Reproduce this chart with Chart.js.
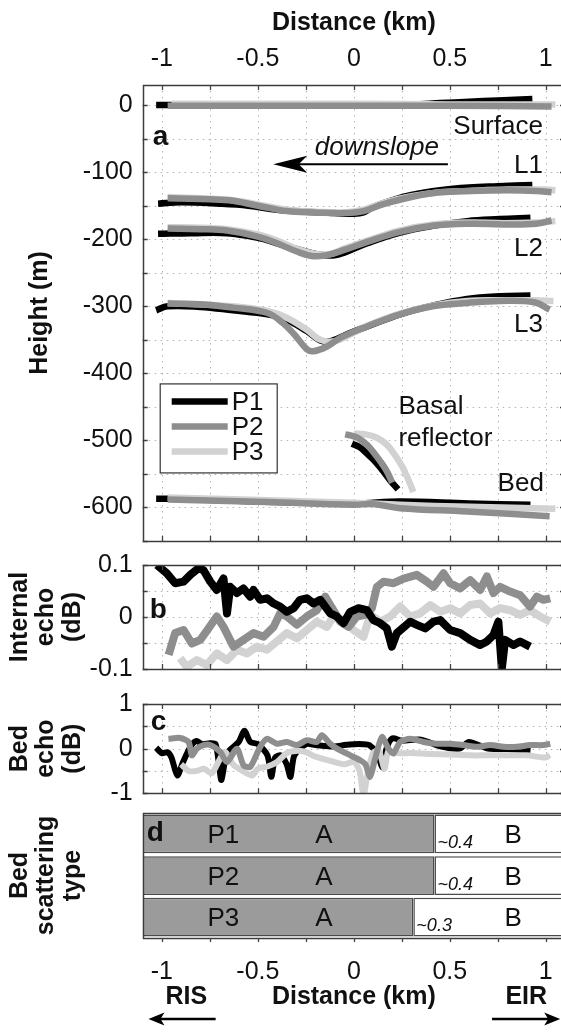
<!DOCTYPE html>
<html><head><meta charset="utf-8">
<script src="https://cdn.jsdelivr.net/npm/chart.js@4.4.1/dist/chart.umd.min.js"></script>
<style>
html,body{margin:0;padding:0;background:#fff;overflow:hidden}
body{width:561px;height:1033px;position:relative}
canvas{position:absolute;left:0}
</style></head>
<body>
<canvas id="cA" width="575" height="560" style="top:0px"></canvas>
<canvas id="cB" width="575" height="140" style="top:545px"></canvas>
<canvas id="cC" width="575" height="125" style="top:685px"></canvas>
<canvas id="cD" width="575" height="233" style="top:800px"></canvas>
<script>
// ---------------- DATA ----------------
const profiles = ['P1', 'P2', 'P3'];
const distanceTickLabels = [-1, -0.5, 0, 0.5, 1];
const heightTickLabels = [0, -100, -200, -300, -400, -500, -600];
const internalTickLabels = [-0.1, 0, 0.1];
const bedEchoTickLabels = [-1, 0, 1];

// panel a : layer heights (distance km, height m)
const surfaceP1 = [[-1.03,0],[-0.96,0],[-0.5,0],[0,0],[0.3,1],[0.45,3],[0.6,5],[0.75,7],[0.93,9]];
const surfaceP2 = [[-0.97,-1],[-0.5,-1],[0,-1],[0.5,-1],[1.03,-2]];
const surfaceP3 = [[-0.95,2],[-0.5,2],[0,2],[0.5,1],[1.05,1]];

const l1P1 = [[-1.02,-147],[-0.9,-145],[-0.7,-147],[-0.55,-150],[-0.4,-156],[-0.25,-159],[-0.1,-161],[0,-162],[0.05,-160],[0.1,-152],[0.2,-142],[0.3,-134],[0.45,-127],[0.6,-123],[0.75,-121],[0.93,-119]];
const l1P2 = [[-0.97,-139],[-0.8,-140],[-0.65,-142],[-0.5,-150],[-0.35,-158],[-0.2,-160],[-0.05,-161],[0.05,-158],[0.15,-148],[0.3,-137],[0.45,-130],[0.6,-128],[0.8,-127],[0.95,-128],[1.03,-130]];
const l1P3 = [[-0.97,-137],[-0.8,-139],[-0.65,-141],[-0.5,-148],[-0.35,-156],[-0.2,-159],[-0.05,-160],[0.05,-156],[0.15,-146],[0.3,-136],[0.45,-130],[0.6,-128],[0.8,-126],[1.0,-126],[1.05,-127]];

const l2P1 = [[-1.02,-192],[-0.85,-191],[-0.66,-191],[-0.5,-198],[-0.4,-206],[-0.28,-216],[-0.18,-223],[-0.1,-224],[-0.05,-220],[0.07,-206],[0.24,-190],[0.41,-180],[0.59,-173],[0.76,-170],[0.92,-168]];
const l2P2 = [[-0.97,-184],[-0.8,-185],[-0.66,-187],[-0.5,-196],[-0.4,-206],[-0.3,-218],[-0.22,-225],[-0.15,-224],[-0.05,-216],[0.07,-204],[0.24,-189],[0.41,-180],[0.6,-177],[0.78,-178],[0.95,-177],[1.03,-172]];
const l2P3 = [[-0.97,-182],[-0.8,-183],[-0.66,-185],[-0.5,-193],[-0.4,-202],[-0.3,-214],[-0.2,-222],[-0.12,-222],[-0.05,-214],[0.07,-202],[0.24,-187],[0.41,-178],[0.6,-175],[0.78,-176],[0.95,-175],[1.05,-173]];

const l3P1 = [[-1.03,-306],[-0.97,-300],[-0.8,-301],[-0.63,-306],[-0.45,-312],[-0.35,-320],[-0.245,-337],[-0.175,-351],[-0.12,-352],[-0.02,-340],[0.07,-330],[0.24,-312],[0.41,-299],[0.59,-289],[0.76,-285],[0.92,-284]];
const l3P2 = [[-0.97,-296],[-0.8,-297],[-0.63,-302],[-0.45,-310],[-0.37,-325],[-0.31,-342],[-0.245,-364],[-0.21,-367],[-0.14,-360],[-0.07,-347],[0.07,-330],[0.24,-312],[0.41,-300],[0.59,-295],[0.76,-292],[0.94,-294],[1.02,-305]];
const l3P3 = [[-0.97,-295],[-0.63,-300],[-0.45,-307],[-0.35,-317],[-0.245,-335],[-0.175,-350],[-0.1,-352],[-0.02,-342],[0.07,-329],[0.24,-311],[0.41,-299],[0.59,-292],[0.76,-291],[0.94,-291],[1.04,-292]];

const basalP1 = [[-0.01,-505],[0.03,-510],[0.07,-520],[0.11,-531],[0.15,-545],[0.19,-560],[0.23,-573]];
const basalP2 = [[-0.045,-491],[0,-494],[0.03,-498],[0.07,-507],[0.1,-517],[0.14,-532],[0.17,-545],[0.2,-563]];
const basalP3 = [[0,-490],[0.06,-491],[0.12,-496],[0.17,-506],[0.21,-520],[0.25,-538],[0.28,-556],[0.31,-577]];

const bedP1 = [[-1.03,-587],[-0.95,-587],[-0.5,-591],[0,-594],[0.24,-591],[0.6,-594],[0.92,-596]];
const bedP2 = [[-0.97,-588],[-0.45,-592],[0,-596],[0.1,-595],[0.24,-601],[0.59,-606],[1.02,-613]];
const bedP3 = [[-0.97,-585],[0,-593],[0.24,-596],[0.6,-599],[1.05,-602]];

// panel b : internal echo (dB)
const internalP1 = [[-1.026,0.1],[-0.974,0.084],[-0.931,0.065],[-0.887,0.068],[-0.852,0.081],[-0.809,0.094],[-0.783,0.09],[-0.748,0.068],[-0.714,0.052],[-0.679,0.074],[-0.661,0.007],[-0.644,0.058],[-0.609,0.046],[-0.575,0.055],[-0.54,0.039],[-0.523,0.052],[-0.488,0.033],[-0.453,0.036],[-0.418,0.026],[-0.384,0.02],[-0.349,0.01],[-0.314,0.017],[-0.28,0.033],[-0.245,0.036],[-0.21,0.026],[-0.175,0.033],[-0.123,0.007],[-0.089,0.001],[-0.054,-0.012],[-0.019,0.01],[0.024,0.017],[0.068,0.013],[0.102,-0.006],[0.137,-0.012],[0.172,-0.022],[0.198,-0.057],[0.224,-0.031],[0.293,-0.009],[0.328,-0.015],[0.372,-0.022],[0.415,-0.009],[0.45,-0.006],[0.502,-0.025],[0.554,-0.031],[0.606,-0.044],[0.658,-0.054],[0.693,-0.047],[0.727,-0.035],[0.753,-0.009],[0.771,-0.099],[0.788,-0.044],[0.832,-0.054],[0.866,-0.047],[0.918,-0.057]];
const internalP2 = [[-0.965,-0.073],[-0.931,-0.031],[-0.887,-0.025],[-0.844,-0.051],[-0.8,-0.044],[-0.757,-0.022],[-0.714,0.001],[-0.679,-0.019],[-0.627,-0.057],[-0.575,-0.044],[-0.523,-0.031],[-0.47,-0.038],[-0.418,-0.019],[-0.384,0.007],[-0.349,0.001],[-0.297,-0.015],[-0.245,0.001],[-0.193,0.013],[-0.149,0.039],[-0.106,0.013],[-0.071,-0.009],[-0.028,-0.019],[0.016,0.001],[0.059,0.004],[0.094,0.017],[0.12,0.058],[0.155,0.068],[0.207,0.065],[0.259,0.074],[0.328,0.081],[0.38,0.068],[0.415,0.058],[0.467,0.084],[0.502,0.065],[0.554,0.055],[0.606,0.071],[0.658,0.052],[0.693,0.078],[0.727,0.046],[0.762,0.058],[0.814,0.049],[0.866,0.042],[0.918,0.02],[0.953,0.039],[0.988,0.033],[1.023,0.036]];
const internalP3 = [[-0.905,-0.079],[-0.87,-0.096],[-0.818,-0.083],[-0.766,-0.092],[-0.714,-0.07],[-0.661,-0.083],[-0.609,-0.063],[-0.557,-0.07],[-0.505,-0.057],[-0.453,-0.063],[-0.401,-0.047],[-0.349,-0.031],[-0.297,-0.041],[-0.245,-0.025],[-0.193,-0.009],[-0.141,-0.019],[-0.106,0.001],[-0.054,-0.006],[-0.002,-0.025],[0.05,-0.038],[0.085,0.004],[0.137,-0.009],[0.189,0.001],[0.241,0.02],[0.293,0.001],[0.345,0.007],[0.398,0.023],[0.45,0.01],[0.502,0.017],[0.554,0.007],[0.606,0.023],[0.658,0.026],[0.71,0.007],[0.762,0.017],[0.814,0.013],[0.866,0.004],[0.918,0.013],[0.97,0.001],[1.023,-0.009]];

// panel c : bed echo (dB)
const bedEchoP1 = [[-1.03,0.02],[-1.0,-0.1],[-0.97,-0.08],[-0.95,-0.2],[-0.92,-0.6],[-0.89,-0.3],[-0.85,0.05],[-0.82,0.17],[-0.79,0.1],[-0.75,0.12],[-0.72,0.1],[-0.7,-0.45],[-0.69,-0.7],[-0.66,-0.1],[-0.6,0.15],[-0.57,0.4],[-0.54,0.15],[-0.5,0.1],[-0.45,-0.15],[-0.43,-0.63],[-0.41,-0.2],[-0.38,-0.15],[-0.35,-0.35],[-0.33,-0.63],[-0.31,-0.15],[-0.25,0.1],[-0.2,0.08],[-0.1,0.05],[-0.05,0.08],[0,0.1],[0.05,0.1],[0.08,0.08],[0.12,-0.1],[0.15,-0.42],[0.17,0.0],[0.2,0.23],[0.25,0.18],[0.35,0.2],[0.45,0.05],[0.55,0.0],[0.6,0.15],[0.7,0.0],[0.8,-0.01],[0.92,-0.05]];
const bedEchoP2 = [[-0.966,0.22],[-0.905,0.24],[-0.861,0.15],[-0.844,-0.15],[-0.818,0.0],[-0.783,0.08],[-0.748,0.08],[-0.696,-0.07],[-0.661,-0.3],[-0.609,0.0],[-0.575,-0.37],[-0.54,-0.41],[-0.488,0.04],[-0.453,0.22],[-0.401,0.11],[-0.349,0.15],[-0.297,0.08],[-0.245,0.19],[-0.193,0.15],[-0.167,0.3],[-0.123,0.11],[-0.088,0.0],[-0.036,-0.11],[-0.019,-0.15],[0.033,-0.26],[0.06,-0.35],[0.085,-0.63],[0.111,-0.22],[0.146,0.26],[0.18,0.0],[0.206,-0.11],[0.241,0.15],[0.293,0.22],[0.363,0.15],[0.432,0.11],[0.502,0.11],[0.571,0.08],[0.641,0.04],[0.71,0.08],[0.78,0.04],[0.849,0.04],[0.918,0.08],[0.988,0.08],[1.023,0.11]];
const bedEchoP3 = [[-0.9,-0.35],[-0.86,-0.5],[-0.82,-0.5],[-0.78,-0.45],[-0.74,-0.55],[-0.7,-0.25],[-0.67,-0.07],[-0.63,-0.35],[-0.58,-0.5],[-0.53,-0.6],[-0.5,-0.45],[-0.45,-0.4],[-0.4,-0.3],[-0.35,-0.1],[-0.3,-0.05],[-0.25,-0.08],[-0.2,-0.18],[-0.1,-0.3],[-0.05,-0.35],[0,-0.3],[0.03,-0.5],[0.05,-1.05],[0.07,-0.6],[0.1,-0.1],[0.13,-0.05],[0.16,-0.45],[0.18,-0.05],[0.22,-0.1],[0.3,-0.1],[0.4,-0.12],[0.5,-0.13],[0.6,-0.15],[0.7,-0.15],[0.8,-0.15],[0.9,-0.15],[1.0,-0.2],[1.02,-0.14]];

// panel d : bed scattering type boundaries (km)
const scatterTypes = ['A', 'B'];
const scatterBoundary = [0.42, 0.42, 0.31];
const boundaryLabels = ['~0.4', '~0.4', '~0.3'];

// ---------------- STYLE / HELPERS ----------------
const FONT = "'Liberation Sans', Arial, Helvetica, sans-serif";
Chart.defaults.font.family = FONT;
Chart.defaults.color = '#111';
const colors = ['#000000', '#8e8e8e', '#d2d2d2'];
const AXL = 142.7;
const TICK_FONT = {size: 25, lineHeight: 1.2};
const TITLE_FONT = {size: 25, weight: 'bold', lineHeight: 1.06};
const hasLabel = (list, v) => list.some(t => Math.abs(t - v) < 1e-6);
const fmt = v => (Math.abs(v) < 1e-9 ? '0' : String(+v.toFixed(2)));
const pts = arr => arr.map(([x, y]) => ({x, y}));
const join = layers => { const out = []; layers.forEach((L, i) => { if (i) out.push({x: L[0][0], y: null}); L.forEach(([x, y]) => out.push({x, y})); }); return out; };

const framePlugin = {
  id: 'frame',
  beforeDatasetsDraw(chart, _a, o) {
    if (o.grid === false) return;
    const {ctx, chartArea: a} = chart; const xs = chart.scales.x, ys = chart.scales.y;
    ctx.save();
    ctx.beginPath(); ctx.rect(a.left, a.top, a.width, a.height); ctx.clip();
    ctx.strokeStyle = '#b5b5b5'; ctx.lineWidth = 1; ctx.setLineDash([1.5, 4.5]);
    xs.ticks.forEach(t => { const p = Math.round(xs.getPixelForValue(t.value)) + 0.5; ctx.beginPath(); ctx.moveTo(p, a.top); ctx.lineTo(p, a.bottom); ctx.stroke(); });
    ys.ticks.forEach(t => { const p = Math.round(ys.getPixelForValue(t.value)) + 0.5; ctx.beginPath(); ctx.moveTo(a.left, p); ctx.lineTo(a.right, p); ctx.stroke(); });
    ctx.restore();
  },
  afterDatasetsDraw(chart, _a, o) {
    const {ctx, chartArea: a} = chart; const xs = chart.scales.x, ys = chart.scales.y;
    ctx.save();
    ctx.strokeStyle = '#444'; ctx.lineWidth = 1.3;
    const TL = 5;
    xs.ticks.forEach(t => {
      const p = Math.round(xs.getPixelForValue(t.value)) + 0.5;
      ctx.beginPath();
      if (o.outBottom) { ctx.moveTo(p, a.bottom); ctx.lineTo(p, a.bottom + 4); }
      else { ctx.moveTo(p, a.top); ctx.lineTo(p, a.top + TL); ctx.moveTo(p, a.bottom); ctx.lineTo(p, a.bottom - TL); }
      ctx.stroke();
    });
    if (o.yTicks !== false) ys.ticks.forEach(t => {
      const p = Math.round(ys.getPixelForValue(t.value)) + 0.5;
      ctx.beginPath(); ctx.moveTo(a.left, p); ctx.lineTo(a.left + TL, p); ctx.moveTo(a.right, p); ctx.lineTo(a.right - TL, p); ctx.stroke();
    });
    ctx.lineWidth = 1.5; ctx.strokeStyle = '#3c3c3c';
    ctx.strokeRect(Math.round(a.left) + 0.5, Math.round(a.top) + 0.5, Math.round(a.width), Math.round(a.height));
    ctx.restore();
  }
};

function arrow(ctx, x0, x1, y, headLen, headHalf, lw) {
  const dir = Math.sign(x1 - x0);
  ctx.save(); ctx.fillStyle = '#000'; ctx.strokeStyle = '#000'; ctx.lineWidth = lw;
  ctx.beginPath(); ctx.moveTo(x0, y); ctx.lineTo(x1 - dir * headLen * 0.7, y); ctx.stroke();
  ctx.beginPath(); ctx.moveTo(x1, y); ctx.lineTo(x1 - dir * headLen, y - headHalf); ctx.lineTo(x1 - dir * headLen * 0.75, y); ctx.lineTo(x1 - dir * headLen, y + headHalf); ctx.closePath(); ctx.fill();
  ctx.restore();
}

function xAxis(position, labels, pad, extra) {
  return Object.assign({
    type: 'linear', position, min: -1.1, max: 1.1,
    grid: {display: false, drawTicks: false, tickLength: 0}, border: {display: false},
    ticks: {display: labels, stepSize: 0.25, includeBounds: false, autoSkip: false, maxRotation: 0, minRotation: 0,
      font: TICK_FONT, padding: pad, callback: v => hasLabel(distanceTickLabels, v) ? fmt(v) : ''}
  }, extra);
}
function yAxis(min, max, step, list, title, titlePad) {
  return {
    type: 'linear', min, max,
    grid: {display: false, drawTicks: false, tickLength: 0}, border: {display: false},
    ticks: {stepSize: step, includeBounds: false, autoSkip: false, padding: 10, font: TICK_FONT,
      callback: v => hasLabel(list, v) ? fmt(v) : ''},
    title: {display: true, text: title, font: TITLE_FONT, padding: {top: titlePad, bottom: 0}},
    afterFit: s => { s.width = AXL; s.paddingTop = 0; s.paddingBottom = 0; }
  };
}
const base = {responsive: false, animation: false, devicePixelRatio: 1, events: []};

// ---------------- PANEL A ----------------
const layersP = [
  [surfaceP1, l1P1, l2P1, l3P1, basalP1, bedP1],
  [surfaceP2, l1P2, l2P2, l3P2, basalP2, bedP2],
  [surfaceP3, l1P3, l2P3, l3P3, basalP3, bedP3]
];
const orderA = [2, 0, 1];
const annotA = {
  id: 'annotA',
  afterDatasetsDraw(chart) {
    const {ctx, chartArea: a, scales: {x, y}} = chart;
    const X = v => x.getPixelForValue(v), Y = v => y.getPixelForValue(v);
    ctx.save(); ctx.fillStyle = '#111'; ctx.textBaseline = 'middle';
    ctx.font = `bold 28px ${FONT}`; ctx.textAlign = 'left'; ctx.fillText('a', a.left + 10, Y(-48));
    ctx.font = `26px ${FONT}`; ctx.textAlign = 'right';
    ctx.fillText('Surface', X(0.985), Y(-32));
    ctx.fillText('L1', X(0.985), Y(-91));
    ctx.fillText('L2', X(0.985), Y(-215));
    ctx.fillText('L3', X(0.985), Y(-327));
    ctx.fillText('Bed', X(0.99), Y(-565));
    ctx.textAlign = 'left';
    ctx.fillText('Basal', X(0.232), Y(-450));
    ctx.fillText('reflector', X(0.232), Y(-498));
    ctx.font = `italic 26px ${FONT}`; ctx.textAlign = 'center';
    ctx.fillText('downslope', X(0.12), Y(-63));
    arrow(ctx, X(0.49), X(-0.42), Y(-88), 34, 8.5, 2);
    // legend
    const lx = a.left + 17, ly = Y(-415), lw = 117, lh = 89;
    ctx.fillStyle = '#fff'; ctx.fillRect(lx, ly, lw, lh);
    ctx.strokeStyle = '#333'; ctx.lineWidth = 1.2; ctx.strokeRect(lx + 0.5, ly + 0.5, lw, lh);
    profiles.forEach((p, i) => {
      const yy = ly + 18 + i * 25;
      ctx.strokeStyle = colors[i]; ctx.lineWidth = 6.5; ctx.beginPath(); ctx.moveTo(lx + 12, yy); ctx.lineTo(lx + 68, yy); ctx.stroke();
      ctx.fillStyle = '#111'; ctx.font = `26px ${FONT}`; ctx.textAlign = 'left'; ctx.fillText(p, lx + 72, yy + 1);
    });
    ctx.restore();
  }
};
new Chart(document.getElementById('cA'), {
  type: 'line',
  data: {datasets: profiles.map((p, i) => ({
    label: p, data: join(layersP[i]), borderColor: colors[i], borderWidth: 6.5, pointRadius: 0,
    tension: 0.4, spanGaps: false, fill: false, order: orderA[i], borderJoinStyle: 'round'
  }))},
  options: Object.assign({}, base, {
    layout: {padding: {left: 0, right: 10, top: 0, bottom: 19}},
    plugins: {legend: {display: false}, tooltip: {enabled: false}, frame: {}},
    scales: {
      x: xAxis('top', true, 11, {
        title: {display: true, text: 'Distance (km)', font: {size: 25, weight: 'bold', lineHeight: 1.1}, padding: {top: 9.3, bottom: 0}},
        afterFit: s => { s.height = 85; s.paddingLeft = 0; s.paddingRight = 0; }
      }),
      y: yAxis(-650, 30, 50, heightTickLabels, 'Height (m)', 26.5)
    }
  }),
  plugins: [framePlugin, annotA]
});

// ---------------- PANEL B ----------------
const internalSeries = [internalP1, internalP2, internalP3];
const letterPlugin = (id, letter, dx, yFn) => ({
  id, afterDatasetsDraw(chart) {
    const {ctx, chartArea: a} = chart;
    ctx.save(); ctx.fillStyle = '#111'; ctx.textBaseline = 'middle'; ctx.textAlign = 'left';
    ctx.font = `bold 28px ${FONT}`; ctx.fillText(letter, a.left + dx, yFn(chart)); ctx.restore();
  }
});
new Chart(document.getElementById('cB'), {
  type: 'line',
  data: {datasets: profiles.map((p, i) => ({
    label: p, data: pts(internalSeries[i]), borderColor: colors[i], borderWidth: 8, pointRadius: 0,
    tension: 0, fill: false, order: [0, 1, 2][i], borderJoinStyle: 'round'
  }))},
  options: Object.assign({}, base, {
    layout: {padding: {left: 0, right: 10, top: 20, bottom: 16}},
    plugins: {legend: {display: false}, tooltip: {enabled: false}, frame: {}},
    scales: {
      x: xAxis('bottom', false, 0, {afterFit: s => { s.height = 0; s.paddingLeft = 0; s.paddingRight = 0; }}),
      y: yAxis(-0.1, 0.1, 0.05, internalTickLabels, ['Internal', 'echo', '(dB)'], 6.5)
    }
  }),
  plugins: [framePlugin, letterPlugin('lb', 'b', 7, c => c.scales.y.getPixelForValue(0.012))]
});

// ---------------- PANEL C ----------------
const bedEchoSeries = [bedEchoP1, bedEchoP2, bedEchoP3];
new Chart(document.getElementById('cC'), {
  type: 'line',
  data: {datasets: profiles.map((p, i) => ({
    label: p, data: pts(bedEchoSeries[i]), borderColor: colors[i], borderWidth: 6, pointRadius: 0,
    tension: 0.25, fill: false, order: [2, 0, 1][i], borderJoinStyle: 'round'
  }))},
  options: Object.assign({}, base, {
    layout: {padding: {left: 0, right: 10, top: 19, bottom: 16.7}},
    plugins: {legend: {display: false}, tooltip: {enabled: false}, frame: {}},
    scales: {
      x: xAxis('bottom', false, 0, {afterFit: s => { s.height = 0; s.paddingLeft = 0; s.paddingRight = 0; }}),
      y: yAxis(-1, 1, 0.5, bedEchoTickLabels, ['Bed', 'echo', '(dB)'], 6.5)
    }
  }),
  plugins: [framePlugin, letterPlugin('lc', 'c', 8, c => c.scales.y.getPixelForValue(0.58))]
});

// ---------------- PANEL D ----------------
const annotD = {
  id: 'annotD',
  afterDatasetsDraw(chart) {
    const {ctx, chartArea: a, scales: {x, y}} = chart;
    const X = v => x.getPixelForValue(v);
    ctx.save(); ctx.fillStyle = '#111'; ctx.textBaseline = 'middle';
    profiles.forEach((p, i) => {
      const cy = y.getPixelForValue(i);
      ctx.font = `26px ${FONT}`; ctx.textAlign = 'center';
      ctx.fillText(p, X(-0.68), cy + 2);
      ctx.fillText(scatterTypes[0], X(-0.156), cy + 2);
      ctx.fillText(scatterTypes[1], X(0.83), cy + 2);
      ctx.font = `italic 18px ${FONT}`; ctx.textAlign = 'left';
      ctx.fillText(boundaryLabels[i], X(scatterBoundary[i]) + 3, cy + 9);
    });
    ctx.font = `bold 28px ${FONT}`; ctx.textAlign = 'left';
    ctx.fillText('d', a.left + 4, y.getPixelForValue(0) - 1);
    const ty = 197;
    ctx.font = `bold 25px ${FONT}`; ctx.textAlign = 'center';
    ctx.fillText('RIS', X(-0.873), ty);
    ctx.fillText('EIR', X(0.898), ty);
    arrow(ctx, X(-0.72), X(-1.07), 219, 16, 6.5, 2.5);
    arrow(ctx, X(0.72), X(1.075), 219, 16, 6.5, 2.5);
    ctx.restore();
  }
};
new Chart(document.getElementById('cD'), {
  type: 'bar',
  data: {labels: profiles, datasets: [
    {label: scatterTypes[0], data: profiles.map((p, i) => [-1.1, scatterBoundary[i]]), backgroundColor: '#9b9b9b', borderColor: '#4a4a4a', borderWidth: 1.5, borderSkipped: false, grouped: false, barPercentage: 0.93, categoryPercentage: 1},
    {label: scatterTypes[1], data: profiles.map((p, i) => [scatterBoundary[i], 1.1]), backgroundColor: '#ffffff', borderColor: '#4a4a4a', borderWidth: 1.5, borderSkipped: false, grouped: false, barPercentage: 0.93, categoryPercentage: 1}
  ]},
  options: Object.assign({}, base, {
    indexAxis: 'y',
    layout: {padding: {left: 0, right: 10, top: 13, bottom: 0}},
    plugins: {legend: {display: false}, tooltip: {enabled: false}, frame: {grid: false, yTicks: false, outBottom: true}},
    scales: {
      x: xAxis('bottom', true, 19, {
        title: {display: true, text: 'Distance (km)', font: {size: 25, weight: 'bold', lineHeight: 1.1}, padding: {top: 0, bottom: 22.3}},
        afterFit: s => { s.height = 95; s.paddingLeft = 0; s.paddingRight = 0; }
      }),
      y: {type: 'category', grid: {display: false, drawTicks: false, tickLength: 0}, border: {display: false}, ticks: {display: false},
        title: {display: true, text: ['Bed', 'scattering', 'type'], font: TITLE_FONT, padding: {top: 6.5, bottom: 0}},
        afterFit: s => { s.width = AXL; s.paddingTop = 0; s.paddingBottom = 0; }}
    }
  }),
  plugins: [framePlugin, annotD]
});
</script>
</body></html>
